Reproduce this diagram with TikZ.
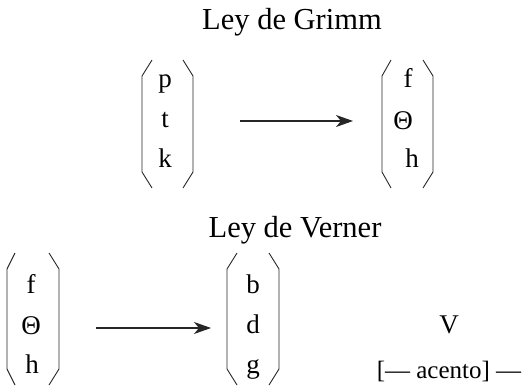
\documentclass[tikz,border=0pt]{standalone}
\usepackage{fontspec}
\setmainfont{Liberation Serif}
\usetikzlibrary{arrows.meta}
\begin{document}
\begin{tikzpicture}[x=1pt,y=-1pt,
  title/.style={font=\fontsize{30.5}{33}\selectfont, inner sep=0pt, anchor=base},
  sym/.style={font=\fontsize{27}{30}\selectfont, inner sep=0pt, anchor=base},
  note/.style={font=\fontsize{25}{28}\selectfont, inner sep=0pt, anchor=base},
  brk/.style={line width=0.9pt, line join=miter, draw=black!85},
  law/.style={line width=1.1pt, draw=black!85, -{Stealth[length=17pt,width=12pt,inset=5pt]}}]
\useasboundingbox (0,0) rectangle (524,387);

% bracket: tip x, vertical x, top y, bottom y
\newcommand\brkt[4]{\draw[brk] (#1,#3) -- (#2,#3+16) -- (#2,#4-16) -- (#1,#4);}

% Ley de Grimm
\node[title] (grimm) at (292,30) {Ley de Grimm};
\brkt{152}{142}{60}{188}
\brkt{183}{193}{60}{188}
\node[sym] (p) at (165,88) {p};
\node[sym] (t) at (165,128) {t};
\node[sym] (k) at (165,168) {k};
\coordinate (ga) at (240,121);
\coordinate (gb) at (353,121);
\draw[law] (ga) -- (gb);
\brkt{391}{382}{60}{188}
\brkt{423}{433}{60}{188}
\node[sym] (f1) at (408,88) {f};
\node[sym, anchor=center] (th1) at (403,121) {Θ};
\node[sym] (h1) at (412,168) {h};

% Ley de Verner
\node[title] (verner) at (295,237) {Ley de Verner};
\brkt{15}{7}{253}{385}
\brkt{49}{59}{253}{385}
\node[sym] (f2) at (31,293) {f};
\node[sym, anchor=center] (th2) at (31,326) {Θ};
\node[sym] (h2) at (32,373) {h};
\coordinate (va) at (96,328);
\coordinate (vb) at (211,328);
\draw[law] (va) -- (vb);
\brkt{237}{227}{253}{385}
\brkt{269}{279}{253}{385}
\node[sym] (b) at (253,293) {b};
\node[sym] (d) at (253,333) {d};
\node[sym] (g) at (253,373) {g};
\node[sym] (V) at (449,333) {V};
\node[note] (acc) at (449,378) {[— acento] —};
\end{tikzpicture}
\end{document}
